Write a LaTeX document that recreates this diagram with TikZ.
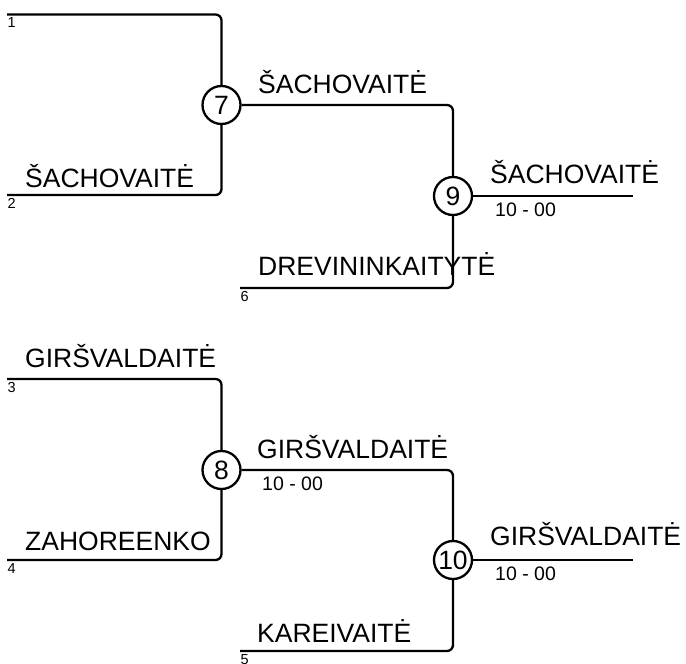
\documentclass[tikz,border=0pt]{standalone}
\usepackage{fontspec}
\setmainfont{Liberation Sans}
\begin{document}
\begin{tikzpicture}[x=1pt,y=-1pt,
  wire/.style={line width=2.3pt,rounded corners=6pt},
  matchnode/.style={circle,draw,line width=2.3pt,minimum size=38pt,inner sep=0pt,font=\fontsize{26.5}{28}\selectfont},
  namelbl/.style={anchor=base west,inner sep=0pt,font=\fontsize{26.5}{28}\selectfont},
  seedlbl/.style={anchor=north west,inner sep=0pt,font=\fontsize{14.5}{16}\selectfont},
  scorelbl/.style={anchor=north west,inner sep=0pt,font=\fontsize{19.5}{21}\selectfont}]
\useasboundingbox (0,0) rectangle (686,664);
% match nodes
\node[matchnode] (m7) at (221.5,105) {7};
\node[matchnode] (m9) at (453,196) {9};
\node[matchnode] (m8) at (221.5,470) {8};
\node[matchnode] (m10) at (453,560) {10};
% entry points
\coordinate (p1) at (7,14.5);
\coordinate (p2) at (7,195);
\coordinate (p6) at (240,288);
\coordinate (p3) at (7,379);
\coordinate (p4) at (7,560);
\coordinate (p5) at (240,651);
\coordinate (o9) at (633,196);
\coordinate (o10) at (633,560);
% wires
\draw[wire] (p1) -| (m7);
\draw[wire] (p2) -| (m7);
\draw[wire] (m7) -| (m9);
\draw[wire] (p6) -| (m9);
\draw[wire] (m9) -- (o9);
\draw[wire] (p3) -| (m8);
\draw[wire] (p4) -| (m8);
\draw[wire] (m8) -| (m10);
\draw[wire] (p5) -| (m10);
\draw[wire] (m10) -- (o10);
% seeds
\node[seedlbl] (s1) at (7.5,17.5) {1};
\node[seedlbl] (s2) at (7.5,198) {2};
\node[seedlbl] (s6) at (240.5,291) {6};
\node[seedlbl] (s3) at (7.5,382) {3};
\node[seedlbl] (s4) at (7.5,563) {4};
\node[seedlbl] (s5) at (240.5,654) {5};
% names
\node[namelbl] (n2) at (25,187) {ŠACHOVAITĖ};
\node[namelbl] (n7) at (258,93) {ŠACHOVAITĖ};
\node[namelbl] (n9) at (490,183.5) {ŠACHOVAITĖ};
\node[namelbl] (n6) at (258,275) {DREVININKAITYTĖ};
\node[namelbl] (n3) at (25,367) {GIRŠVALDAITĖ};
\node[namelbl] (n4) at (25,550) {ZAHOREENKO};
\node[namelbl] (n8) at (257,458.5) {GIRŠVALDAITĖ};
\node[namelbl] (n10) at (490,545) {GIRŠVALDAITĖ};
\node[namelbl] (n5) at (257,642) {KAREIVAITĖ};
% scores
\node[scorelbl] (c9) at (495,203) {10 - 00};
\node[scorelbl] (c8) at (262,477) {10 - 00};
\node[scorelbl] (c10) at (495,567) {10 - 00};
\end{tikzpicture}
\end{document}
